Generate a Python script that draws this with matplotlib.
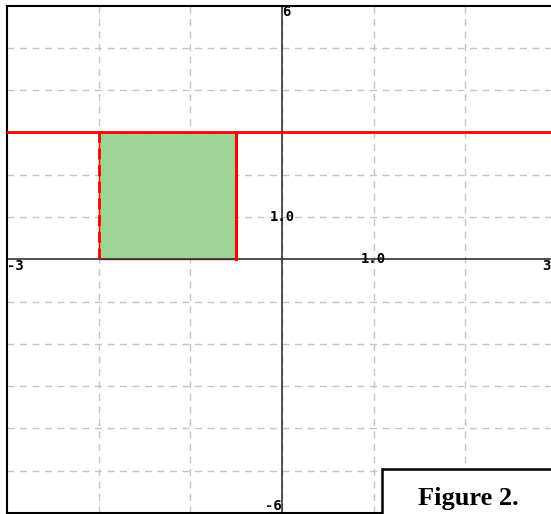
import matplotlib.pyplot as plt
from matplotlib.patches import Rectangle

# chart values
x_min, x_max = -3, 3
y_min, y_max = -6, 6
grid_x = [-2, -1, 0, 1, 2]
grid_y = [-5, -4, -3, -2, -1, 1, 2, 3, 4, 5]
line_y = 3
rect_x = [-2, -0.5]
rect_y = [0, 3]
edge_labels = [(-3, 0, "-3"), (3, 0, "3"), (0, 6, "6"), (0, -6, "-6")]
unit_labels = [(0, 1, "1.0"), (1, 0, "1.0")]

W, H = 551, 514
fig = plt.figure(figsize=(W / 100, H / 100), dpi=100)
# plot area runs past the right edge of the picture
left, top, right, bottom = 7, 5.5, 557, 513
ax = fig.add_axes([left / W, 1 - bottom / H, (right - left) / W, (bottom - top) / H])
ax.set_xlim(x_min, x_max)
ax.set_ylim(y_min, y_max)
ax.set_xticks([])
ax.set_yticks([])
for s in ax.spines.values():
    s.set_linewidth(1.5)
    s.set_color('black')

gcol = '#c4c4c4'
for gx in grid_x:
    ax.axvline(gx, color=gcol, lw=1, ls=(0, (5, 4)), zorder=0)
for gy in grid_y:
    ax.axhline(gy, color=gcol, lw=1, ls=(0, (5, 4)), zorder=0)

ax.axhline(0, color='#333333', lw=1.2, zorder=2)
ax.axvline(0, color='#333333', lw=1.2, zorder=2)

ax.add_patch(Rectangle((rect_x[0], rect_y[0]), rect_x[1] - rect_x[0], rect_y[1] - rect_y[0],
                       facecolor='#9dd595', edgecolor='red', lw=1, zorder=1))
ax.plot([rect_x[0], rect_x[0]], rect_y, color='red', lw=2, ls=(0, (4, 2)), zorder=3)
ax.plot([rect_x[1], rect_x[1]], rect_y, color='red', lw=2.2, zorder=3)
ax.axhline(line_y, color='red', lw=2, zorder=3)

mono = dict(family='DejaVu Sans Mono', fontweight='bold', fontsize=10, color='black')
for x, y, t in edge_labels:
    if t == "-3":
        ax.text(x, y, t, ha='left', va='top', **mono)
    elif t == "3":
        # the right end of the axis lies just past the picture edge
        ax.text(x - 0.075, y, t, ha='right', va='top', **mono)
    elif t == "6":
        ax.text(x, y, t, ha='left', va='top', **mono)
    else:
        ax.text(x, y, t, ha='right', va='bottom', **mono)
for x, y, t in unit_labels:
    ax.text(x, y, t, ha='center', va='center', zorder=4, **mono)

# caption box in the lower right corner
fig.patches.append(Rectangle((382 / W, 1 - 525 / H), 200 / W, 56 / H, transform=fig.transFigure,
                             facecolor='white', edgecolor='black', lw=1.8, zorder=5))
fig.text(468 / W, 1 - 505 / H, "Figure 2.", ha='center', va='baseline', family='Liberation Serif',
         fontweight='bold', fontsize=19, zorder=6)

fig.savefig('out.png', dpi=100)
